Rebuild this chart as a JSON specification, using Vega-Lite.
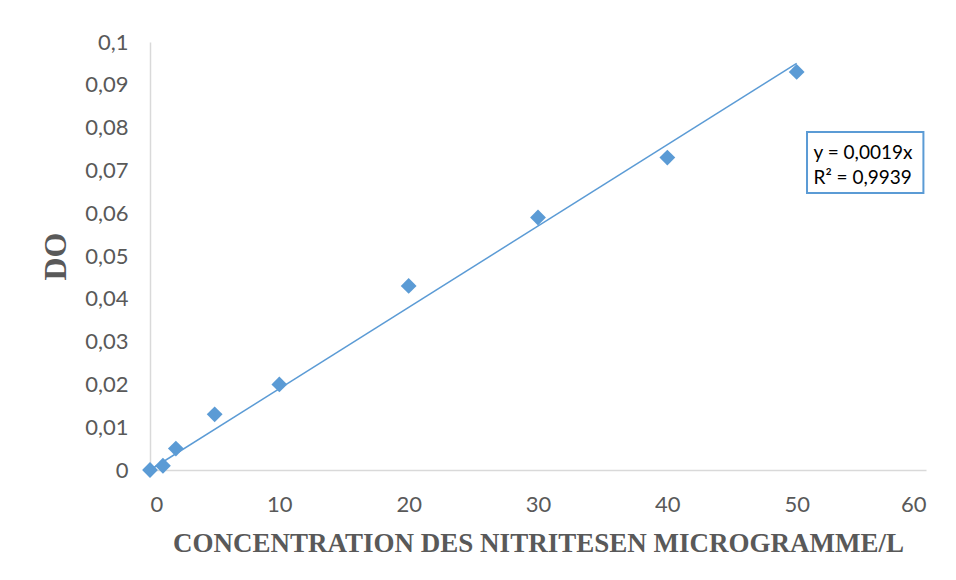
{
  "$schema": "https://vega.github.io/schema/vega-lite/v6.json",
  "width": 776,
  "height": 428,
  "autosize": "none",
  "padding": {"left": 150, "top": 42, "right": 30, "bottom": 110},
  "background": "white",
  "config": {
    "view": {"stroke": null},
    "axis": {
      "grid": false,
      "ticks": false,
      "domainColor": "#d9d9d9",
      "domainWidth": 1.5,
      "labelFont": "Lato",
      "labelFontSize": 22,
      "labelColor": "#595959",
      "titleFont": "Liberation Serif",
      "titleFontWeight": "bold",
      "titleColor": "#595959"
    }
  },
  "datasets": {
    "points": [
      {"x": 0, "y": 0},
      {"x": 1, "y": 0.001},
      {"x": 2, "y": 0.005},
      {"x": 5, "y": 0.013},
      {"x": 10, "y": 0.02},
      {"x": 20, "y": 0.043},
      {"x": 30, "y": 0.059},
      {"x": 40, "y": 0.073},
      {"x": 50, "y": 0.093}
    ],
    "trend": [
      {"x": 0, "y": 0},
      {"x": 50, "y": 0.095}
    ],
    "box": [
      {"x1": 50.8, "x2": 59.8, "y1": 0.0647, "y2": 0.079}
    ],
    "eq": [
      {"x": 51.3, "y": 0.0741, "t": "y = 0,0019x"},
      {"x": 51.3, "y": 0.0683, "t": "R² = 0,9939"}
    ]
  },
  "layer": [
    {
      "data": {"name": "trend"},
      "mark": {"type": "line", "color": "#5b9bd5", "strokeWidth": 1.5},
      "encoding": {
        "x": {
          "field": "x", "type": "quantitative",
          "scale": {"domain": [0, 60], "nice": false},
          "axis": {
            "values": [0, 10, 20, 30, 40, 50, 60],
            "labelPadding": 24,
            "title": "CONCENTRATION DES NITRITESEN MICROGRAMME/L",
            "titleFontSize": 27,
            "titlePadding": 15
          }
        },
        "y": {
          "field": "y", "type": "quantitative",
          "scale": {"domain": [0, 0.1], "nice": false},
          "axis": {
            "values": [0, 0.01, 0.02, 0.03, 0.04, 0.05, 0.06, 0.07, 0.08, 0.09, 0.1],
            "labelExpr": "replace(format(datum.value, '.2~f'), '.', ',')",
            "labelPadding": 22,
            "title": "DO",
            "titleFontSize": 32,
            "titlePadding": 12
          }
        }
      }
    },
    {
      "data": {"name": "points"},
      "mark": {"type": "point", "shape": "diamond", "filled": true, "color": "#5b9bd5", "opacity": 1, "size": 250},
      "encoding": {
        "x": {"field": "x", "type": "quantitative"},
        "y": {"field": "y", "type": "quantitative"}
      }
    },
    {
      "data": {"name": "box"},
      "mark": {"type": "rect", "fill": "white", "stroke": "#5b9bd5", "strokeWidth": 2},
      "encoding": {
        "x": {"field": "x1", "type": "quantitative"},
        "x2": {"field": "x2"},
        "y": {"field": "y1", "type": "quantitative"},
        "y2": {"field": "y2"}
      }
    },
    {
      "data": {"name": "eq"},
      "mark": {"type": "text", "align": "left", "baseline": "middle", "font": "Lato", "fontSize": 19, "color": "#000000"},
      "encoding": {
        "x": {"field": "x", "type": "quantitative"},
        "y": {"field": "y", "type": "quantitative"},
        "text": {"field": "t"}
      }
    }
  ]
}
